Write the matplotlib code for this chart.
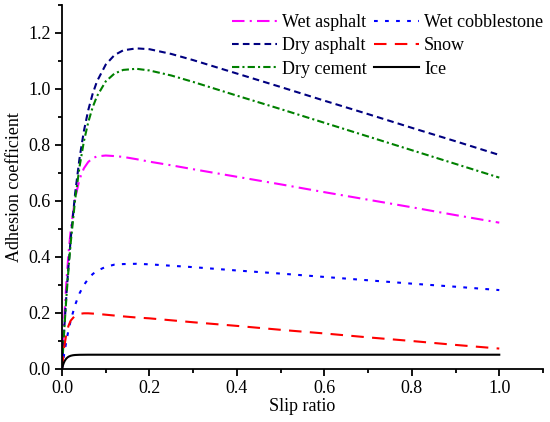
import matplotlib
matplotlib.use("Agg")
import matplotlib.pyplot as plt
from matplotlib.ticker import MultipleLocator

plt.rcParams['font.family'] = ['Liberation Serif', 'DejaVu Serif']
plt.rcParams['mathtext.fontset'] = 'stix'

# slip ratio samples
s_main = [0, 0.005, 0.01, 0.015, 0.02, 0.03, 0.04, 0.05, 0.06, 0.07, 0.08,
          0.10, 0.12, 0.14, 0.17, 0.20, 0.25, 0.30, 0.40, 0.50, 0.60, 0.70,
          0.80, 0.90, 1.00]
wet_asphalt = [0, 0.175, 0.310, 0.415, 0.497, 0.609, 0.677, 0.716, 0.739, 0.752,
               0.759, 0.762, 0.760, 0.757, 0.749, 0.740, 0.727, 0.713, 0.686,
               0.659, 0.631, 0.604, 0.577, 0.549, 0.522]
dry_asphalt = [0, 0.139, 0.262, 0.370, 0.466, 0.626, 0.751, 0.849, 0.924, 0.982,
               1.027, 1.087, 1.121, 1.138, 1.145, 1.142, 1.125, 1.103, 1.055,
               1.007, 0.958, 0.910, 0.861, 0.813, 0.764]
dry_cement = [0, 0.135, 0.254, 0.359, 0.451, 0.604, 0.721, 0.812, 0.881, 0.934,
              0.974, 1.027, 1.055, 1.068, 1.072, 1.066, 1.048, 1.025, 0.976,
              0.928, 0.879, 0.830, 0.781, 0.732, 0.683]
wet_cobble = [0, 0.053, 0.099, 0.139, 0.173, 0.228, 0.269, 0.299, 0.321, 0.338,
              0.350, 0.364, 0.372, 0.374, 0.375, 0.373, 0.368, 0.363, 0.351,
              0.340, 0.328, 0.316, 0.304, 0.293, 0.281]
snow = [0, 0.077, 0.125, 0.154, 0.172, 0.190, 0.196, 0.198, 0.198, 0.197,
        0.196, 0.193, 0.190, 0.187, 0.183, 0.180, 0.173, 0.166, 0.153,
        0.139, 0.126, 0.112, 0.099, 0.085, 0.072]
s_ice = [0, 0.002, 0.004, 0.006, 0.008, 0.010, 0.013, 0.016, 0.020, 0.025,
         0.030, 0.040, 0.060, 0.10, 0.5, 1.0]
ice = [0, 0.0115, 0.0203, 0.0271, 0.0323, 0.0364, 0.0408, 0.0437, 0.0463, 0.0481,
       0.0490, 0.0497, 0.050, 0.050, 0.050, 0.050]

labels = ['Wet asphalt', 'Dry asphalt', 'Dry cement', 'Wet cobblestone', 'Snow', 'Ice']

fig = plt.figure(figsize=(5.5, 4.22), dpi=100)
ax = fig.add_axes([62/550, (422-368.7)/422, (543-62)/550, (368.7-5)/422])

lw = 1.5
ax.plot(s_main, wet_asphalt, color='#FF00FF', lw=lw, dashes=(6, 2.5, 1, 2.5), label=labels[0])
ax.plot(s_main, dry_asphalt, color='#000080', lw=lw, dashes=(3.2, 2), label=labels[1])
ax.plot(s_main, dry_cement, color='#008000', lw=lw, dashes=(3.5, 1.5, 1, 1.5), label=labels[2])
ax.plot(s_main, wet_cobble, color='#0000FF', lw=lw, dashes=(1.8, 3.5), label=labels[3])
ax.plot(s_main, snow, color='#FF0000', lw=lw, dashes=(6, 4), label=labels[4])
ax.plot(s_ice, ice, color='black', lw=lw, label=labels[5])

ax.set_xlim(0, 1.1)
ax.set_ylim(0, 1.3)
ax.xaxis.set_minor_locator(MultipleLocator(0.1))
ax.yaxis.set_minor_locator(MultipleLocator(0.1))
ax.set_xticks([0, 0.2, 0.4, 0.6, 0.8, 1.0])
ax.set_xticklabels(['0.0', '0.2', '0.4', '0.6', '0.8', '1.0'])
ax.set_yticks([0, 0.2, 0.4, 0.6, 0.8, 1.0, 1.2])
ax.set_yticklabels(['0.0', '0.2', '0.4', '0.6', '0.8', '1.0', '1.2'])

for side in ['top', 'right']:
    ax.spines[side].set_visible(False)
for side in ['left', 'bottom']:
    ax.spines[side].set_linewidth(1.3)

ax.tick_params(which='major', direction='out', length=5, width=1.3, labelsize=13, pad=3)
ax.tick_params(which='minor', direction='out', length=3, width=1.3)

ax.set_xlabel('Slip ratio', fontsize=13, labelpad=1)
ax.set_ylabel('Adhesion coefficient', fontsize=13, labelpad=4)

fig.legend(*ax.get_legend_handles_labels(), ncol=2, loc='upper left',
           bbox_to_anchor=(231.7/550, (422-14.0)/422), frameon=False,
           fontsize=13, handlelength=2.5, handletextpad=0.28, columnspacing=0.4,
           labelspacing=0.35, borderpad=0, borderaxespad=0)

fig.savefig('out.png', dpi=100)
